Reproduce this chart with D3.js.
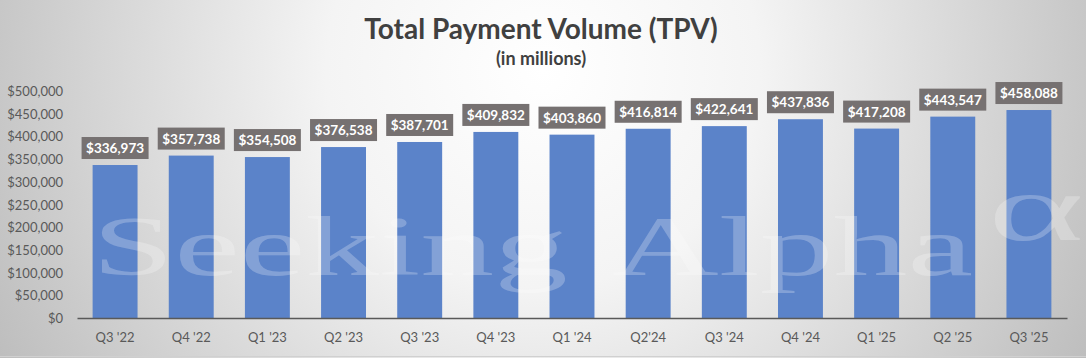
<!DOCTYPE html>
<html><head><meta charset="utf-8">
<script src="https://cdn.jsdelivr.net/npm/d3@7"></script>
<style>html,body{margin:0;padding:0;background:#fff;}svg{display:block;}</style>
</head><body>
<svg id="chart" width="1086" height="358"></svg>
<script>
const categories = ["Q3 '22","Q4 '22","Q1 '23","Q2 '23","Q3 '23","Q4 '23","Q1 '24","Q2'24","Q3 '24","Q4 '24","Q1 '25","Q2 '25","Q3 '25"];
const tpv = [336973,357738,354508,376538,387701,409832,403860,416814,422641,437836,417208,443547,458088];
const yTicks = [0,50000,100000,150000,200000,250000,300000,350000,400000,450000,500000];
const title = "Total Payment Volume (TPV)";
const subtitle = "(in millions)";

const W = 1086, H = 358;
const svg = d3.select("#chart");
const defs = svg.append("defs");
const rg = defs.append("radialGradient").attr("id","bg").attr("gradientUnits","userSpaceOnUse")
  .attr("cx",543).attr("cy",70).attr("r",620);
rg.append("stop").attr("offset","0").attr("stop-color","#ffffff");
rg.append("stop").attr("offset","0.35").attr("stop-color","#f4f4f4");
rg.append("stop").attr("offset","1").attr("stop-color","#bdbdbd");
svg.append("rect").attr("width",W).attr("height",H).attr("fill","url(#bg)");
svg.append("line").attr("x1",0).attr("x2",W).attr("y1",356.5).attr("y2",356.5).attr("stroke","#d0d0d0");

const x = d3.scaleBand().domain(categories).range([77,1067]).paddingInner(0.41).paddingOuter(0.205);
const y = d3.scaleLinear().domain([0,500000]).range([318,91]);

// title
svg.append("text").attr("x",541).attr("y",39).attr("text-anchor","middle")
  .attr("font-family","Lato").attr("font-weight","bold").attr("font-size",28).attr("fill","#404040").text(title);
svg.append("text").attr("x",541).attr("y",65).attr("text-anchor","middle")
  .attr("font-family","Lato").attr("font-weight","bold").attr("font-size",18).attr("fill","#404040").text(subtitle);

// y axis
const fmt = d => "$" + d3.format(",")(d);
const yAxis = svg.append("g").attr("transform","translate(63,0)")
  .call(d3.axisLeft(y).tickValues(yTicks).tickFormat(fmt).tickSize(0).tickPadding(0));
yAxis.select(".domain").remove();
yAxis.selectAll("text").attr("font-family","Lato").attr("font-size",13).attr("fill","#595959").attr("dy","0.35em");

// bars
svg.append("g").selectAll("rect").data(tpv).join("rect")
  .attr("x",(d,i)=>x(categories[i])).attr("width",x.bandwidth())
  .attr("y",d=>y(d)).attr("height",d=>y(0)-y(d))
  .attr("fill","#5b83c9");

// watermark
const wm = svg.append("g").attr("opacity",0.25).attr("fill","#ffffff").attr("font-family","Liberation Serif");
function stretched(txt, x0, x1, base, size) {
  const t = wm.append("text").attr("font-size",size).text(txt);
  const w = t.node().getComputedTextLength();
  t.attr("transform",`translate(${x0},${base}) scale(${(x1-x0)/w},1)`);
}
stretched("Seeking", 92, 568, 275, 85);
stretched("Alpha", 612, 973, 275, 85);
stretched("α", 988, 1084, 240, 95);

// x axis
const xAxis = svg.append("g").attr("transform","translate(0,318)")
  .call(d3.axisBottom(x).tickSize(0).tickPadding(0));
xAxis.select(".domain").attr("stroke","#595959").attr("stroke-width",1.5);
xAxis.selectAll("text").attr("font-family","Lato").attr("font-size",13).attr("fill","#595959").attr("dy","1.85em");

// labels
const lg = svg.append("g").selectAll("g").data(tpv).join("g")
  .attr("transform",(d,i)=>`translate(${x(categories[i])+x.bandwidth()/2},${y(d)-6})`);
lg.append("rect").attr("x",-33.5).attr("y",-22).attr("width",67).attr("height",22).attr("fill","#767171");
lg.append("text").attr("text-anchor","middle").attr("y",-6).attr("font-family","Lato").attr("font-weight","bold")
  .attr("font-size",13.5).attr("fill","#ffffff").text(d=>fmt(d));
</script>
</body></html>
